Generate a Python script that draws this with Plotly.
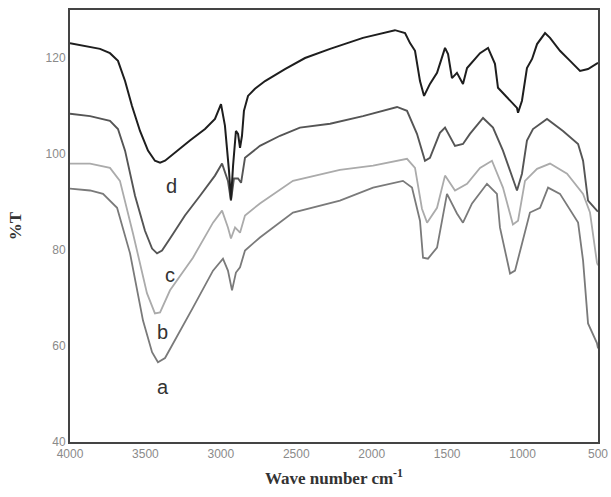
import plotly.graph_objects as go

# Wavenumber (cm^-1) and %T values
wn_a = [4000, 3867, 3781, 3688, 3602, 3516, 3456, 3417, 3370, 3317, 3185, 3052, 2986, 2953, 2926, 2900, 2873, 2840, 2741, 2522, 2211, 1991, 1793, 1733, 1680, 1660, 1627, 1567, 1501, 1435, 1395, 1335, 1236, 1170, 1150, 1083, 1050, 1004, 951, 884, 831, 752, 632, 599, 566, 507, 500]
t_a = [92.8, 92.4, 91.7, 88.8, 79.3, 65.3, 58.7, 56.6, 57.5, 60.6, 68.0, 75.7, 78.2, 75.7, 71.6, 75.3, 76.4, 79.9, 82.6, 87.8, 90.3, 93.0, 94.4, 93.0, 86.1, 78.4, 78.2, 80.5, 91.7, 87.6, 85.7, 89.7, 93.8, 91.7, 84.7, 75.1, 75.7, 81.3, 87.8, 88.8, 93.0, 91.7, 85.7, 77.8, 64.7, 60.6, 59.5]

wn_b = [4000, 3867, 3735, 3669, 3582, 3490, 3437, 3403, 3337, 3185, 3052, 2992, 2953, 2933, 2906, 2873, 2840, 2741, 2522, 2211, 1991, 1766, 1713, 1667, 1633, 1567, 1514, 1448, 1368, 1282, 1203, 1130, 1064, 1030, 984, 904, 818, 705, 599, 553, 507, 500]
t_b = [98.0, 98.0, 97.1, 94.4, 83.4, 71.0, 66.8, 67.0, 71.6, 78.4, 85.7, 88.2, 84.7, 82.4, 84.7, 83.6, 87.2, 89.7, 94.4, 96.7, 97.6, 99.0, 97.1, 88.6, 85.7, 88.8, 95.5, 92.4, 93.8, 97.1, 98.6, 93.0, 85.3, 86.1, 94.4, 96.9, 98.0, 95.9, 91.7, 87.8, 77.4, 76.8]

wn_c = [4000, 3867, 3735, 3682, 3635, 3569, 3503, 3456, 3423, 3390, 3337, 3238, 3138, 3039, 2992, 2953, 2933, 2913, 2886, 2866, 2840, 2741, 2608, 2476, 2276, 2058, 1832, 1766, 1700, 1647, 1614, 1548, 1514, 1448, 1395, 1349, 1262, 1196, 1130, 1083, 1037, 1004, 971, 931, 838, 732, 632, 599, 566, 507, 500]
t_c = [108.4, 107.9, 106.9, 105.2, 100.7, 91.3, 84.0, 80.3, 79.3, 79.9, 82.4, 87.2, 91.3, 95.5, 98.0, 94.4, 90.3, 94.9, 94.9, 94.0, 99.2, 101.7, 103.8, 105.5, 106.3, 107.9, 109.8, 109.0, 104.2, 98.6, 99.2, 104.4, 105.5, 101.7, 102.1, 104.2, 107.5, 105.5, 100.7, 96.5, 92.4, 95.9, 102.8, 105.2, 107.3, 104.8, 102.1, 98.6, 90.3, 88.2, 88.0]

wn_d = [4000, 3901, 3801, 3735, 3682, 3635, 3589, 3536, 3483, 3437, 3403, 3370, 3304, 3205, 3105, 3039, 2999, 2973, 2946, 2933, 2919, 2900, 2886, 2873, 2860, 2847, 2820, 2774, 2707, 2575, 2442, 2276, 2058, 1846, 1779, 1746, 1713, 1680, 1653, 1614, 1567, 1514, 1494, 1468, 1435, 1395, 1368, 1329, 1282, 1229, 1183, 1163, 1103, 1037, 1030, 1004, 971, 937, 904, 851, 818, 752, 685, 619, 566, 507, 500]
t_d = [123.1, 122.5, 121.9, 121.0, 119.4, 115.2, 110.0, 104.8, 100.7, 98.6, 98.2, 98.6, 100.3, 102.8, 105.2, 107.3, 110.4, 105.9, 96.5, 90.5, 97.6, 104.8, 104.2, 101.3, 103.8, 109.0, 112.1, 113.6, 115.2, 117.7, 120.0, 121.9, 124.2, 125.8, 125.2, 123.1, 121.5, 115.2, 112.1, 114.6, 116.9, 122.1, 120.8, 115.8, 116.9, 114.6, 117.9, 119.4, 121.0, 122.1, 118.8, 113.8, 111.7, 109.6, 108.6, 111.1, 117.9, 119.8, 122.9, 125.2, 124.2, 121.5, 119.4, 117.3, 117.7, 118.8, 119.0]

curve_names = ["a", "b", "c", "d"]
label_wn = [3384, 3384, 3337, 3324]
label_t = [51.4, 62.9, 74.7, 93.4]

x_ticks = [4000, 3500, 3000, 2500, 2000, 1500, 1000, 500]
y_ticks = [40, 60, 80, 100, 120]

series = [(wn_a, t_a, "#7a7a7a", 1.8), (wn_b, t_b, "#ababab", 1.8),
          (wn_c, t_c, "#555555", 1.9), (wn_d, t_d, "#1e1e1e", 2.0)]

fig = go.Figure()
for name, (x, y, col, w) in zip(curve_names, series):
    fig.add_trace(go.Scatter(x=x, y=y, mode="lines", name=name,
                             line=dict(color=col, width=w), showlegend=False))

for name, lx, ly in zip(curve_names, label_wn, label_t):
    fig.add_annotation(x=lx, y=ly, text=name, showarrow=False,
                       font=dict(family="Liberation Sans, Arial", size=20, color="#333333"))

fig.update_layout(
    width=611, height=497,
    margin=dict(l=70, r=13, t=10, b=55, autoexpand=False),
    paper_bgcolor="white", plot_bgcolor="white",
    showlegend=False,
)
fig.update_xaxes(
    range=[4000, 500], tickvals=x_ticks, ticktext=[str(v) for v in x_ticks],
    showgrid=False, zeroline=False, ticks="", automargin=False,
    showline=True, mirror=True, linewidth=2, linecolor="#444444",
    tickfont=dict(family="Liberation Sans, Arial", size=12, color="#8a8a8a"),
    title=dict(text="<b>Wave number cm<sup>-1</sup></b>", standoff=12,
               font=dict(family="Liberation Serif, Times New Roman", size=17, color="#333333")),
)
fig.update_yaxes(
    range=[40, 130], tickvals=y_ticks, ticktext=[str(v) for v in y_ticks],
    showgrid=False, zeroline=False, ticks="", ticklabelstandoff=0, automargin=False,
    showline=True, mirror=True, linewidth=2, linecolor="#444444",
    tickfont=dict(family="Liberation Sans, Arial", size=12, color="#8a8a8a"),
    title=dict(text="<b>%T</b>", standoff=20,
               font=dict(family="Liberation Serif, Times New Roman", size=17, color="#333333")),
)

fig.write_html("out.html", config={"displayModeBar": False},
               post_script="document.body.style.margin='0';")
